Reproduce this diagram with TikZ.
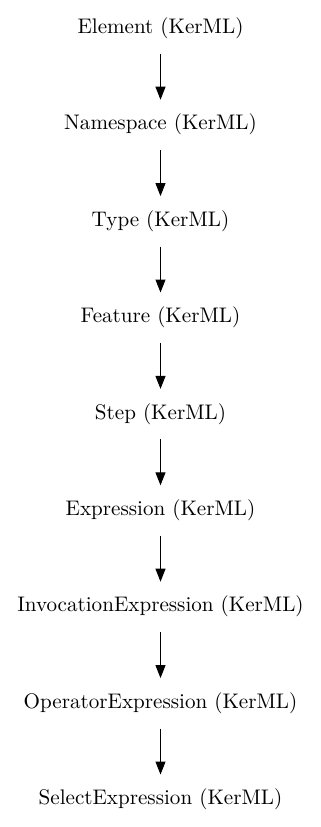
\documentclass[tikz,border=0pt]{standalone}
\usepackage{fontspec}
\newfontfamily\kermlfont{lmroman10-regular.otf}
\usetikzlibrary{arrows.meta, positioning}

\begin{document}
\begin{tikzpicture}[x=1pt, y=1pt, >={Triangle[length=13pt, width=10pt]},
  node distance=46pt,
  every node/.style={font=\kermlfont\fontsize{21.1}{25}\selectfont},
  kerml/.style={minimum height=50pt, inner sep=0pt, text height=14pt, text depth=4pt}]
  \useasboundingbox (0,0) rectangle (321,-827);
  \node[kerml] (element) at (160.5,-28.5) {Element (KerML)};
  \node[kerml, below=of element] (namespace) {Namespace (KerML)};
  \node[kerml, below=of namespace] (type) {Type (KerML)};
  \node[kerml, below=of type] (feature) {Feature (KerML)};
  \node[kerml, below=of feature] (step) {Step (KerML)};
  \node[kerml, below=of step] (expression) {Expression (KerML)};
  \node[kerml, below=of expression] (invocation) {InvocationExpression (KerML)};
  \node[kerml, below=of invocation] (operator) {OperatorExpression (KerML)};
  \node[kerml, below=of operator] (select) {SelectExpression (KerML)};
  \draw[->, line width=1pt] (element) -- (namespace);
  \draw[->, line width=1pt] (namespace) -- (type);
  \draw[->, line width=1pt] (type) -- (feature);
  \draw[->, line width=1pt] (feature) -- (step);
  \draw[->, line width=1pt] (step) -- (expression);
  \draw[->, line width=1pt] (expression) -- (invocation);
  \draw[->, line width=1pt] (invocation) -- (operator);
  \draw[->, line width=1pt] (operator) -- (select);
\end{tikzpicture}
\end{document}
